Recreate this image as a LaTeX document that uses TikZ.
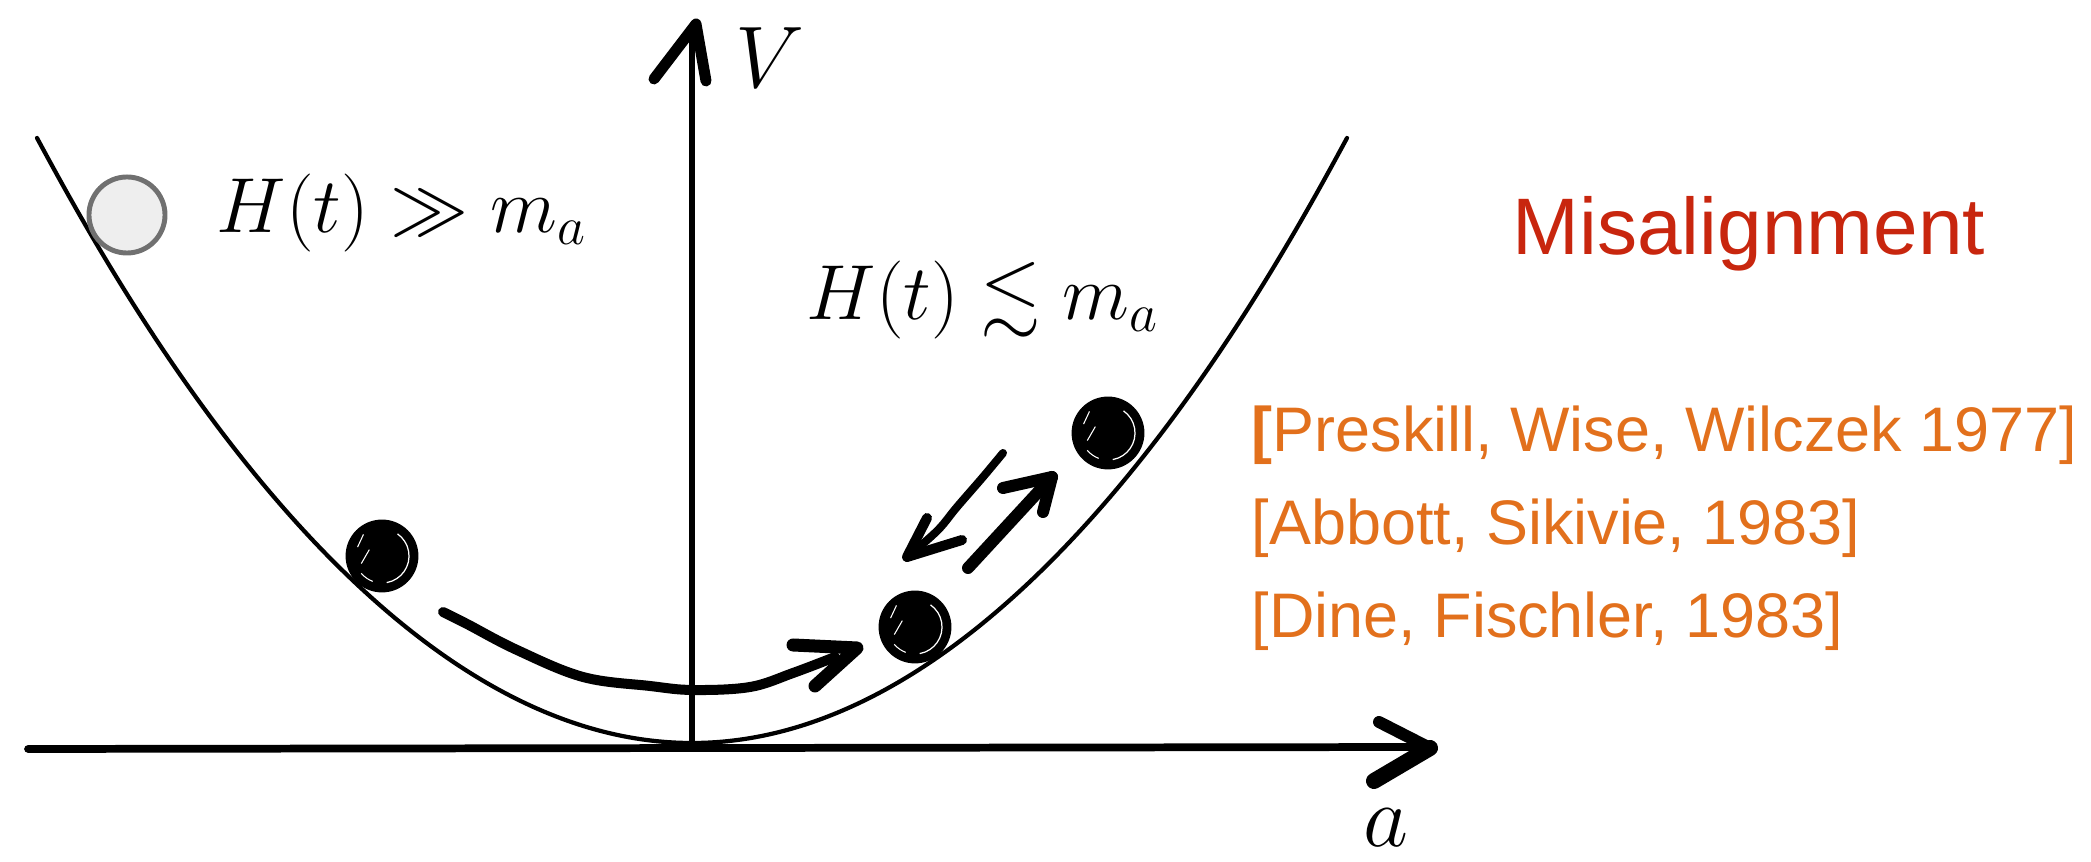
\documentclass[tikz,border=0pt]{standalone}
\usepackage{graphicx}
\usepackage{amssymb}
\usepackage{fontspec}
\newfontfamily\helv{Liberation Sans}
\definecolor{misred}{RGB}{200,38,14}
\definecolor{reforange}{RGB}{226,112,28}
\definecolor{ballgray}{RGB}{112,112,112}
\definecolor{ballfill}{RGB}{238,238,238}
\begin{document}
\begin{tikzpicture}[x=0.01cm, y=-0.01cm,
  potential/.style={line width=1.2pt, line cap=round},
  axisline/.style={line width=2.2pt, line cap=round},
  headstroke/.style={line width=0.12cm, line cap=round, line join=round},
  hand/.style={line width=0.1cm, line cap=round, line join=round},
  formula/.style={anchor=base west, inner sep=0, font=\huge},
  axislabel/.style={inner sep=0, font=\Huge},
  reftext/.style={anchor=base west, inner sep=0, text=reforange, font=\helv\fontsize{17.9pt}{21pt}\selectfont},
  bball/.style={circle, fill=black, draw=black, line width=0.8pt, minimum size=0.7cm, inner sep=0,
    path picture={
      \draw[white, line width=0.35pt] ([shift={(-80:0.27cm)}]path picture bounding box.center)
        arc[start angle=-80, end angle=55, radius=0.27cm];
      \draw[white, line width=0.3pt] ([shift={(160:0.26cm)}]path picture bounding box.center) -- ++(65:0.14cm);
      \draw[white, line width=0.3pt] ([shift={(200:0.22cm)}]path picture bounding box.center) -- ++(60:0.16cm);
      \draw[white, line width=0.3pt] ([shift={(-110:0.27cm)}]path picture bounding box.center)
        arc[start angle=-110, end angle=-140, radius=0.27cm];
    }},
  gball/.style={circle, fill=ballfill, draw=ballgray, line width=1.4pt, minimum size=0.76cm, inner sep=0}
]
\path[use as bounding box] (0,0) rectangle (2091,862);

% potential
\draw[potential] (37,138) parabola bend (692,743) (1347,138);

% axes
\coordinate (xl) at (28,749);
\coordinate (xr) at (1426,747);
\coordinate (yb) at (692,747);
\coordinate (yt) at (692,28);
\draw[axisline] (xl) -- (xr);
\draw[line width=1.8pt] (yb) -- (yt);
% axis heads
\coordinate (xtip) at (1430,748);
\coordinate (xw1) at (1379,722);
\coordinate (xw2) at (1374,781);
\draw[headstroke] (xw1) -- (xtip);
\draw[headstroke, line width=0.16cm] (xw2) -- (xtip);
\coordinate (ytip) at (696,24);
\coordinate (yw1) at (654,79);
\coordinate (yw2) at (706,81);
\draw[headstroke, line width=0.11cm] (yw1) -- (ytip) -- (yw2);

\node[axislabel] (V) at (770,58) {$V$};
\node[axislabel] (A) at (1386,828) {$a$};

% formulas
\node[formula] (h1) at (216,233) {\scalebox{1.07}{$H(t)\gg m_a$}};
\node[formula] (h2) at (806,320) {\scalebox{1.07}{$H(t)\lesssim m_a$}};

% balls
\node[gball] (g0) at (127,215) {};
\node[bball] (b1) at (382,556) {};
\node[bball] (b2) at (915,627) {};
\node[bball] (b3) at (1108,433) {};

% rolling arrow
\coordinate (rtip) at (857,648);
\coordinate (rw1) at (793,645);
\coordinate (rw2) at (815,686);
\draw[hand] plot[smooth, tension=0.6] coordinates {(443,612) (467,624) (517,650) (583,677) (650,686) (693,690) (750,687) (793,673) (835,657)};
\draw[hand, line width=0.13cm] (rw1) -- (rtip) -- (rw2);

% oscillation arrows
\draw[hand, line width=0.08cm] plot[smooth, tension=0.6] coordinates {(1003,453) (983,477) (957,507) (938,530) (912,553)};
\coordinate (dtip) at (907,557);
\coordinate (dw1) at (927,518);
\coordinate (dw2) at (962,540);
\draw[hand, line width=0.1cm] (dw1) -- (dtip) -- (dw2);
\coordinate (utail) at (968,568);
\coordinate (utip) at (1052,477);
\coordinate (uw1) at (1003,488);
\coordinate (uw2) at (1043,512);
\draw[hand, line width=0.12cm] (utail) -- (utip);
\draw[hand, line width=0.12cm] (uw1) -- (utip) -- (uw2);

% title and references
\node[anchor=base west, inner sep=0, text=misred, font=\helv\fontsize{22.8pt}{27pt}\selectfont] (mis) at (1512,255) {Misalignment};
\node[reftext] (r1) at (1251,452) {{\bfseries[}Preskill, Wise, Wilczek 1977]};
\node[reftext] (r2) at (1251,545) {[Abbott, Sikivie, 1983]};
\node[reftext] (r3) at (1251,638) {[Dine, Fischler, 1983]};
\end{tikzpicture}
\end{document}
